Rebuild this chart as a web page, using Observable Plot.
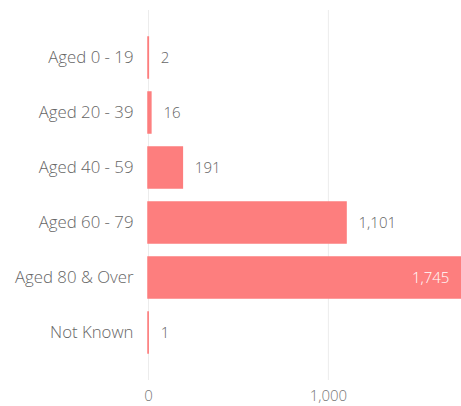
<!DOCTYPE html>
<html>
<head>
<meta charset="utf-8">
<script src="https://cdn.jsdelivr.net/npm/d3@7"></script>
<script src="https://cdn.jsdelivr.net/npm/@observablehq/plot@0.6"></script>
<style>
  html, body { margin: 0; padding: 0; background: #fff; }
  #chart svg { display: block; }
  #chart svg text { font-weight: 300; }
</style>
</head>
<body>
<div id="chart"></div>
<script>
const categories = ["Aged 0 - 19", "Aged 20 - 39", "Aged 40 - 59", "Aged 60 - 79", "Aged 80 & Over", "Not Known"];
const values = [2, 16, 191, 1101, 1745, 1];
const xTicks = [0, 1000];

const data = categories.map((c, i) => ({category: c, value: values[i]}));
const fmt = d3.format(",");
const xMax = 1740;
const barColor = "#fd7e7e";

const chart = Plot.plot({
  width: 461,
  height: 406,
  marginLeft: 148,
  marginRight: 0,
  marginTop: 10,
  marginBottom: 26,
  style: {fontFamily: "'Open Sans', sans-serif", background: "#fff"},
  x: {domain: [0, xMax], ticks: xTicks, tickFormat: fmt, label: null},
  y: {domain: categories, paddingInner: 0.25, paddingOuter: 0.43, label: null},
  marks: [
    Plot.ruleX(xTicks, {stroke: "#ececec", strokeWidth: 1}),
    Plot.barX(data, {y: "category", x: "value", fill: barColor, stroke: barColor, strokeWidth: 1.5}),
    Plot.text(data.filter(d => d.value < xMax * 0.8), {
      y: "category", x: "value", text: d => fmt(d.value),
      textAnchor: "start", dx: 12, fill: "#666", fontSize: 15
    }),
    Plot.text(data.filter(d => d.value >= xMax * 0.8), {
      y: "category", x: "value", text: d => fmt(d.value),
      textAnchor: "end", dx: -13, fill: "#fff", fontSize: 15
    }),
    Plot.axisY({tickSize: 0, tickPadding: 15, fontSize: 16.8, color: "#666", label: null}),
    Plot.axisX({ticks: xTicks, tickFormat: fmt, tickSize: 0, tickPadding: 10, fontSize: 15, color: "#777", label: null})
  ]
});
document.getElementById("chart").appendChild(chart);
</script>
</body>
</html>
